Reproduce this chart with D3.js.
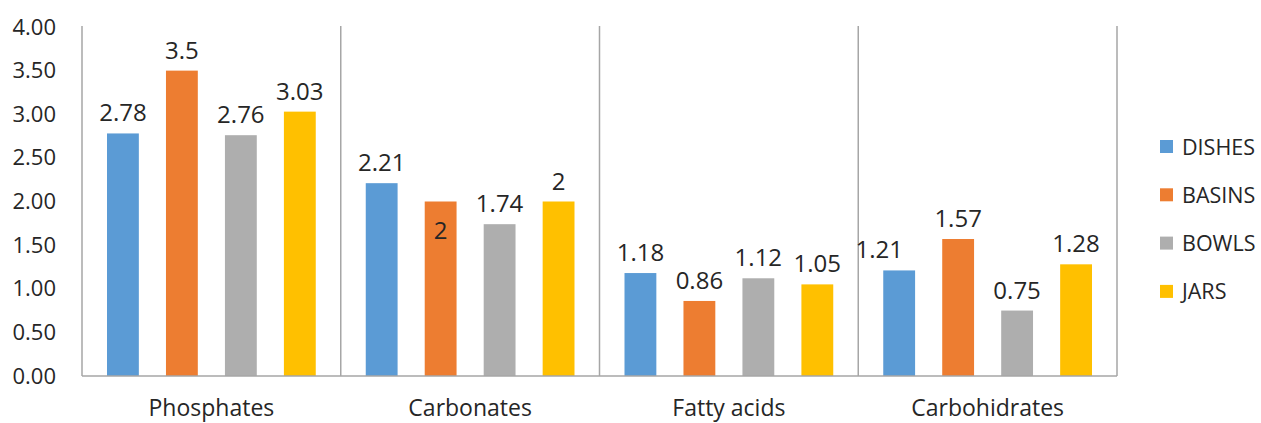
<!DOCTYPE html>
<html>
<head>
<meta charset="utf-8">
<script src="https://cdn.jsdelivr.net/npm/d3@7"></script>
<style>
  html, body { margin: 0; padding: 0; background: #fff; }
  svg { display: block; font-family: "Open Sans", "Noto Sans", sans-serif; }
</style>
</head>
<body>
<svg id="chart" width="1261" height="423"></svg>
<script>
// Compounds measured per vessel type
const categories = ["Phosphates", "Carbonates", "Fatty acids", "Carbohidrates"];
const seriesNames = ["DISHES", "BASINS", "BOWLS", "JARS"];
const dishes = [2.78, 2.21, 1.18, 1.21];
const basins = [3.5, 2, 0.86, 1.57];
const bowls  = [2.76, 1.74, 1.12, 0.75];
const jars   = [3.03, 2, 1.05, 1.28];
const yTicks = [0, 0.5, 1, 1.5, 2, 2.5, 3, 3.5, 4];

const seriesValues = [dishes, basins, bowls, jars];
const colors = ["#5B9BD5", "#ED7D31", "#AEAEAE", "#FFC000"];

// label tweaks: one label sits inside its bar, one is nudged left
const labelInside = new Set(["Carbonates|BASINS"]);
const labelShift = new Map([["Carbohidrates|DISHES", -20]]);

const svg = d3.select("#chart");
const plotLeft = 82, plotRight = 1117, plotTop = 27, plotBottom = 376;

const x0 = d3.scaleBand().domain(categories).range([plotLeft, plotRight]).padding(0);
const x1 = d3.scaleBand().domain(seriesNames)
  .range([25, x0.bandwidth() - 25]).paddingInner(0.46).paddingOuter(0);
const y = d3.scaleLinear().domain([0, 4]).range([plotBottom, plotTop]);

const axisColor = "#A6A6A6";
const textColor = "#262626";

// y tick labels
const yAxis = d3.axisLeft(y).tickValues(yTicks).tickFormat(d3.format(".2f")).tickSize(0).tickPadding(26);
const gy = svg.append("g").attr("transform", `translate(${plotLeft},0)`).call(yAxis);
gy.select(".domain").remove();
gy.selectAll("text").attr("font-size", 22).attr("fill", textColor)
  .attr("font-family", '"Open Sans", sans-serif');

// category boundary lines
const bounds = categories.map(c => x0(c)).concat([x0(categories[categories.length - 1]) + x0.bandwidth()]);
svg.append("g").selectAll("line").data(bounds).join("line")
  .attr("x1", d => d).attr("x2", d => d)
  .attr("y1", y(4) - 1).attr("y2", plotBottom)
  .attr("stroke", axisColor).attr("stroke-width", 1.5);

// bars
const rows = [];
categories.forEach((c, i) => {
  seriesNames.forEach((s, j) => rows.push({ cat: c, series: s, value: seriesValues[j][i], color: colors[j] }));
});

svg.append("g").selectAll("rect").data(rows).join("rect")
  .attr("x", d => x0(d.cat) + x1(d.series))
  .attr("y", d => y(d.value))
  .attr("width", x1.bandwidth())
  .attr("height", d => y(0) - y(d.value))
  .attr("fill", d => d.color);

// value labels
svg.append("g").selectAll("text").data(rows).join("text")
  .attr("x", d => x0(d.cat) + x1(d.series) + x1.bandwidth() / 2 + (labelShift.get(d.cat + "|" + d.series) || 0))
  .attr("y", d => labelInside.has(d.cat + "|" + d.series) ? y(d.value) + 37 : y(d.value) - 12)
  .attr("text-anchor", "middle")
  .attr("font-size", 24)
  .attr("fill", textColor)
  .text(d => String(d.value));

// x axis baseline
svg.append("line")
  .attr("x1", plotLeft).attr("x2", plotRight).attr("y1", plotBottom).attr("y2", plotBottom)
  .attr("stroke", axisColor).attr("stroke-width", 1.5);

// category labels
const xAxis = d3.axisBottom(x0).tickSize(0).tickPadding(24);
const gx = svg.append("g").attr("transform", `translate(0,${plotBottom})`).call(xAxis);
gx.select(".domain").remove();
gx.selectAll("text").attr("font-size", 23).attr("fill", textColor)
  .attr("font-family", '"Open Sans", sans-serif');

// legend
const legend = svg.append("g").attr("transform", "translate(1160,147)");
const item = legend.selectAll("g").data(seriesNames).join("g")
  .attr("transform", (d, i) => `translate(0,${i * 48.3})`);
item.append("rect").attr("x", 0).attr("y", -7).attr("width", 13).attr("height", 13)
  .attr("fill", (d, i) => colors[i]);
item.append("text").attr("x", 22).attr("y", 0).attr("dy", "0.35em")
  .attr("font-size", 21.5).attr("fill", textColor).text(d => d);
</script>
</body>
</html>
